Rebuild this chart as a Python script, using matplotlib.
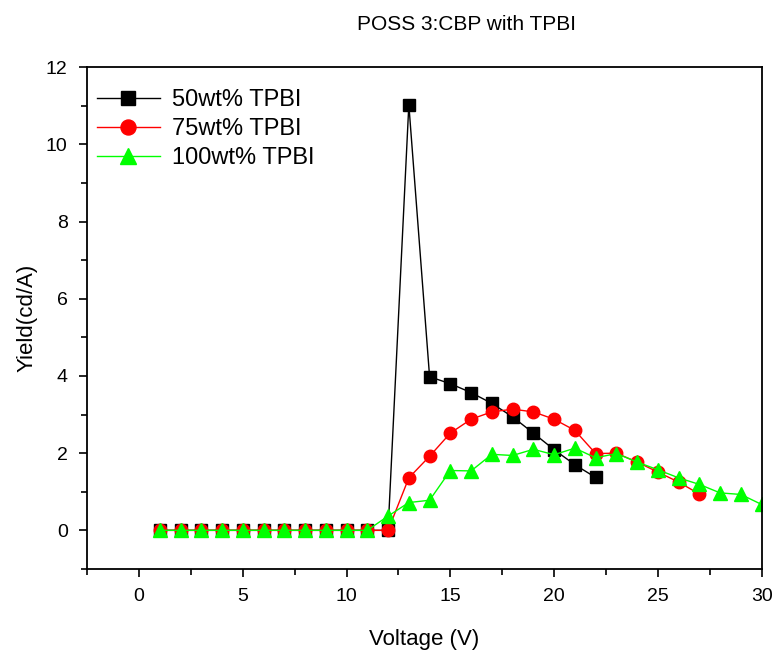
import matplotlib
matplotlib.use('Agg')
import matplotlib.pyplot as plt
from matplotlib.ticker import MultipleLocator

plt.rcParams['font.family'] = ['Liberation Sans', 'DejaVu Sans']

# voltage (V) and yield (cd/A)
v50 = list(range(1, 23))
y50 = [0] * 12 + [11.03, 3.98, 3.80, 3.57, 3.29, 2.94, 2.52, 2.09, 1.70, 1.37]

v75 = list(range(1, 28))
y75 = [0] * 12 + [1.36, 1.92, 2.52, 2.88, 3.07, 3.14, 3.07, 2.88, 2.59,
                  1.99, 2.00, 1.77, 1.51, 1.25, 0.94]

v100 = list(range(1, 31))
y100 = [0] * 11 + [0.37, 0.72, 0.78, 1.55, 1.54, 1.97, 1.94, 2.10, 1.96, 2.13,
                   1.88, 1.99, 1.77, 1.57, 1.36, 1.19, 0.97, 0.93, 0.67]

labels = ['50wt% TPBI', '75wt% TPBI', '100wt% TPBI']

fig = plt.figure(figsize=(7.78, 6.6), dpi=100)
ax = fig.add_axes([0.112, 0.138, 0.867, 0.760])

ax.plot(v50, y50, color='black', lw=1, marker='s', ms=8, label=labels[0])
ax.plot(v75, y75, color='red', lw=1, marker='o', ms=9, label=labels[1])
ax.plot(v100, y100, color='#00ff00', lw=1, marker='^', ms=10, label=labels[2])

ax.set_xlim(-2.5, 30)
ax.set_ylim(-1, 12)
ax.xaxis.set_major_locator(MultipleLocator(5))
ax.xaxis.set_minor_locator(MultipleLocator(2.5))
ax.yaxis.set_major_locator(MultipleLocator(2))
ax.yaxis.set_minor_locator(MultipleLocator(1))
ax.tick_params(which='both', direction='out', top=False, right=False,
               labelsize=14, width=1.2)
ax.tick_params(which='major', length=6, pad=8)
ax.tick_params(which='minor', length=4)
for s in ax.spines.values():
    s.set_linewidth(1.3)

ax.set_xlabel('Voltage (V)', fontsize=16, labelpad=17)
ax.set_ylabel('Yield(cd/A)', fontsize=16, labelpad=6)
fig.text(0.60, 0.963, 'POSS 3:CBP with TPBI', fontsize=15, ha='center', va='center')

ax.legend(loc='upper left', bbox_to_anchor=(0.0, 0.976), frameon=False,
          fontsize=17, handlelength=2.7, borderaxespad=0, labelspacing=0.3,
          handletextpad=0.5, markerscale=1.2)

fig.savefig('out.png', dpi=100)
